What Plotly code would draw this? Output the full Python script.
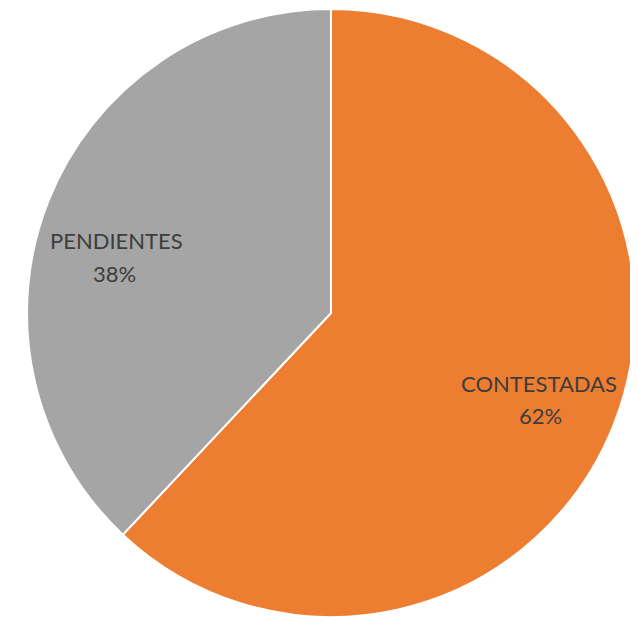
import plotly.graph_objects as go

labels = ["CONTESTADAS", "PENDIENTES"]
values = [62, 38]
colors = ["#ED7D31", "#A5A5A5"]

W, H = 638, 622
OFF = 8  # browser default body margin
# label anchor positions in pixels (center of each text line)
label_pos = {
    "CONTESTADAS": [(539, 383), (540, 415)],
    "PENDIENTES": [(116, 241), (115, 274)],
}

def px_x(px):
    return (px - OFF) / W

def px_y(py):
    return 1 - (py - OFF) / H

fig = go.Figure(go.Pie(
    labels=labels,
    values=values,
    sort=False,
    direction="clockwise",
    rotation=0,
    marker=dict(colors=colors, line=dict(color="white", width=2)),
    textinfo="none",
    hoverinfo="label+percent",
    domain=dict(x=[px_x(27), px_x(635)], y=[px_y(617), px_y(9)]),
    showlegend=False,
))

total = sum(values)
annotations = []
for lab, val in zip(labels, values):
    pct = round(100 * val / total)
    (x1, y1), (x2, y2) = label_pos[lab]
    for txt, (px, py) in ((lab, (x1, y1)), (f"{pct}%", (x2, y2))):
        annotations.append(dict(
            x=px_x(px), y=px_y(py), xref="paper", yref="paper",
            text=txt, showarrow=False, xanchor="center", yanchor="middle",
            font=dict(family="Lato", size=22, color="#3d3d3d"),
        ))

fig.update_layout(
    width=W, height=H,
    margin=dict(l=0, r=0, t=0, b=0),
    paper_bgcolor="white",
    plot_bgcolor="white",
    annotations=annotations,
)

fig.write_html("out.html")
